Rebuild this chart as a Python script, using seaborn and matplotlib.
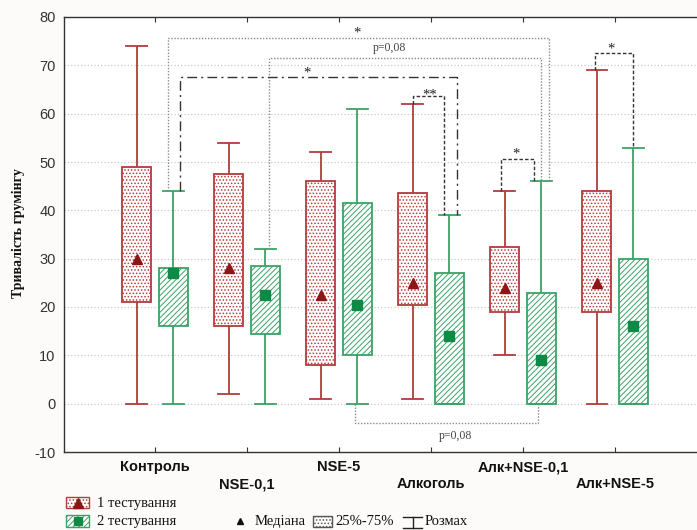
import numpy as np
import pandas as pd
import matplotlib
matplotlib.use("Agg")
import matplotlib.pyplot as plt
import seaborn as sns
from matplotlib.patches import Rectangle
from matplotlib.lines import Line2D
import matplotlib.transforms as mtransforms

# ---------------- data ----------------
groups = ['Контроль', 'NSE-0,1', 'NSE-5', 'Алкоголь', 'Алк+NSE-0,1', 'Алк+NSE-5']
tests = ['1 тестування', '2 тестування']

t1_min = [0, 2, 1, 1, 10, 0]
t1_q1 = [21, 16, 8, 20.5, 19, 19]
t1_med = [30, 28, 22.5, 25, 24, 25]
t1_q3 = [49, 47.5, 46, 43.5, 32.5, 44]
t1_max = [74, 54, 52, 62, 44, 69]

t2_min = [0, 0, 0, 0, 0, 0]
t2_q1 = [16, 14.5, 10, 0, 0, 0]
t2_med = [27, 22.5, 20.5, 14, 9, 16]
t2_q3 = [28, 28.5, 41.5, 27, 23, 30]
t2_max = [44, 32, 61, 39, 46, 53]

yticks = list(range(-10, 81, 10))

# long table: five-number summary per box (quartiles reproduce exactly)
rows = []
for i, g in enumerate(groups):
    for v in (t1_min[i], t1_q1[i], t1_med[i], t1_q3[i], t1_max[i]):
        rows.append((g, tests[0], v))
    for v in (t2_min[i], t2_q1[i], t2_med[i], t2_q3[i], t2_max[i]):
        rows.append((g, tests[1], v))
df = pd.DataFrame(rows, columns=['group', 'test', 'value'])

# ---------------- style ----------------
RED_LINE = '#b23c3c'
RED_MARK = '#8e1515'
GRN_LINE = '#3aa266'
GRN_MARK = '#0d8a45'
BG = '#fcfbf9'

plt.rcParams['font.family'] = ['Liberation Sans', 'DejaVu Sans']
plt.rcParams['hatch.linewidth'] = 0.7

fig = plt.figure(figsize=(6.97, 5.30), dpi=100, facecolor=BG)
ax = fig.add_axes([64 / 697, 1 - 452 / 530, (697 - 64) / 697, 435 / 530])
ax.set_facecolor('white')

styles = [
    (tests[0], RED_LINE, '.....'),
    (tests[1], GRN_LINE, '//////'),
]
for t, col, hatch in styles:
    n0 = len(ax.patches)
    sns.boxplot(data=df[df['test'] == t], x='group', y='value', hue='test',
                order=groups, hue_order=tests, palette={tests[0]: RED_LINE, tests[1]: GRN_LINE},
                saturation=1, width=0.8, gap=0.2, dodge=True, whis=(0, 100), showfliers=False,
                linecolor=col, linewidth=1.3, capwidths=0.22,
                medianprops=dict(linewidth=0), legend=False, ax=ax)
    for p in ax.patches[n0:]:
        p.set_facecolor('white')
        p.set_edgecolor(col)
        p.set_hatch(hatch)
        p.set_linewidth(1.3)

xpos = np.arange(len(groups))
ax.plot(xpos - 0.2, t1_med, linestyle='none', marker='^', ms=7.5, color=RED_MARK, zorder=5)
ax.plot(xpos + 0.2, t2_med, linestyle='none', marker='s', ms=6.5, color=GRN_MARK, zorder=5)

# ---------------- axes ----------------
ax.set_xlim(-0.989, 5.891)
ax.set_ylim(-10, 80)
ax.set_yticks(yticks)
ax.set_yticklabels([str(v) for v in yticks], fontsize=10.5, color='#333333')
ax.set_xticks(xpos)
ax.set_xticklabels([])
ax.set_xlabel('')
ax.set_ylabel('')
ax.tick_params(axis='x', top=True, bottom=True, direction='in', length=3.5, color='#333333')
ax.tick_params(axis='y', length=0, pad=6)
ax.yaxis.grid(True, linestyle=(0, (1, 2)), color='#c4c4c4', linewidth=0.8)
ax.xaxis.grid(False)
ax.set_axisbelow(True)
for s in ['left', 'bottom', 'top']:
    ax.spines[s].set_color('#333333')
    ax.spines[s].set_linewidth(1.0)
ax.spines['right'].set_visible(False)

# staggered category labels
trans = mtransforms.blended_transform_factory(ax.transData, ax.transAxes)
for i, g in enumerate(groups):
    yy = -0.0345 if i % 2 == 0 else -0.0736
    ax.text(i, yy, g, transform=trans, ha='center', va='center',
            fontsize=10.5, fontweight='bold', color='#111111')

fig.text(18 / 697, 1 - 233 / 530, 'Тривалість грумінгу', rotation=90,
         ha='center', va='center', fontsize=10, fontweight='bold',
         family=['Liberation Serif', 'DejaVu Serif'], color='#111111')

# ---------------- significance brackets ----------------
def bracket(x1, y1, x2, y2, level, ls, color, lw=1.0):
    ax.plot([x1, x1, x2, x2], [y1, level, level, y2], linestyle=ls, color=color,
            linewidth=lw, zorder=4, solid_capstyle='butt')

DOT = (0, (1, 1.2))
DASH = (0, (2.5, 1.5))
DASHDOT = (0, (7, 3, 1.5, 3))
serif = ['Liberation Serif', 'DejaVu Serif']

bracket(0 + 0.145, t2_max[0], 4 + 0.28, t2_max[4], 75.7, DOT, '#8a8a8a')
bracket(1 + 0.24, t2_max[1], 4 + 0.196, t2_max[4], 71.5, DOT, '#8a8a8a')
bracket(0 + 0.27, t2_max[0], 3 + 0.28, t2_max[3], 67.6, DASHDOT, '#333333')
bracket(3 - 0.196, t1_max[3], 3 + 0.14, t2_max[3], 63.7, DASH, '#333333')
bracket(4 - 0.24, t1_max[4], 4 + 0.12, t2_max[4], 50.7, DASH, '#333333')
bracket(5 - 0.22, t1_max[5], 5 + 0.20, t2_max[5], 72.5, DASH, '#333333')
bracket(2 + 0.174, t2_min[2], 4 + 0.16, t2_min[4], -4.1, DOT, '#8a8a8a')

def star(x, y, s, fs=10.5):
    ax.text(x, y, s, ha='center', va='center', fontsize=fs, family=serif, color='#222222', zorder=6)

star(2.196, 76.6, '*')
star(1.65, 68.5, '*')
star(2.98, 63.8, '**')
star(3.92, 51.7, '*')
star(4.96, 73.3, '*')
ax.text(2.55, 73.6, 'p=0,08', ha='center', va='center', fontsize=8.5, family=serif, color='#444444')
ax.text(3.27, -6.6, 'p=0,08', ha='center', va='center', fontsize=8.5, family=serif, color='#444444')

# ---------------- legend (figure coordinates) ----------------
def fx(px):
    return px / 697

def fy(py):
    return 1 - py / 530

def fig_box(x0, y0, x1, y1, edge, hatch):
    r = Rectangle((fx(x0), fy(y1)), fx(x1) - fx(x0), fy(y0) - fy(y1), transform=fig.transFigure,
                  facecolor='white', edgecolor=edge, hatch=hatch, linewidth=1.0)
    fig.patches.append(r)

fig_box(66, 497, 89, 508, RED_LINE, '.....')
fig.add_artist(Line2D([fx(77.5)], [fy(502.5)], marker='^', ms=7, color=RED_MARK, linestyle='none'))
fig_box(66, 515, 89, 527, GRN_LINE, '//////')
fig.add_artist(Line2D([fx(77.5)], [fy(521)], marker='s', ms=6, color=GRN_MARK, linestyle='none'))

fig.text(fx(97), fy(503), tests[0], ha='left', va='center', fontsize=10.5, family=serif, color='#111111')
fig.text(fx(97), fy(521.5), tests[1], ha='left', va='center', fontsize=10.5, family=serif, color='#111111')

fig.add_artist(Line2D([fx(240)], [fy(521)], marker='^', ms=5, color='#111111', linestyle='none'))
fig.text(fx(255), fy(521.5), 'Медіана', ha='left', va='center', fontsize=10.5, family=serif, color='#111111')
fig_box(313, 516, 332, 527, '#555555', '.....')
fig.text(fx(335), fy(521.5), '25%-75%', ha='left', va='center', fontsize=10.5, family=serif, color='#111111')
fig.add_artist(Line2D([fx(403), fx(422)], [fy(516.5), fy(516.5)], color='#222222', lw=1))
fig.add_artist(Line2D([fx(412.5), fx(412.5)], [fy(516.5), fy(527.5)], color='#222222', lw=1))
fig.add_artist(Line2D([fx(403), fx(422)], [fy(527.5), fy(527.5)], color='#222222', lw=1))
fig.text(fx(425), fy(521.5), 'Розмах', ha='left', va='center', fontsize=10.5, family=serif, color='#111111')

fig.savefig('out.png', dpi=100, facecolor=BG)
